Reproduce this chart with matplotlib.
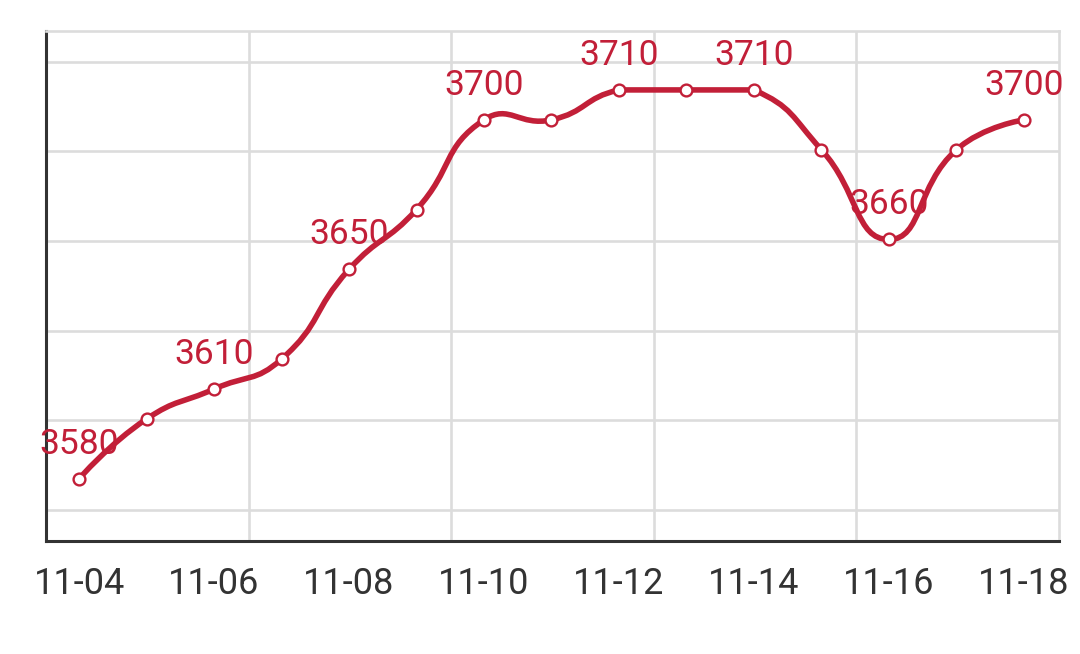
import numpy as np
import matplotlib.pyplot as plt
from matplotlib.path import Path
from matplotlib.patches import PathPatch

plt.rcParams['font.family'] = ['Roboto', 'DejaVu Sans']

# data
dates = ['11-04', '11-05', '11-06', '11-07', '11-08', '11-09', '11-10', '11-11',
         '11-12', '11-13', '11-14', '11-15', '11-16', '11-17', '11-18']
prices = [3580, 3600, 3610, 3620, 3650, 3670, 3700, 3700,
          3710, 3710, 3710, 3690, 3660, 3690, 3700]

red = '#C21F38'
dark = '#333333'
grid_c = '#DCDCDC'


def smooth_path(xs, ys, sx, sy, smooth=0.5):
    # bezier smoothing like echarts, computed in pixel-like units
    pts = np.column_stack([np.asarray(xs, float) * sx, np.asarray(ys, float) * sy])
    lo, hi = pts.min(axis=0), pts.max(axis=0)
    cps = [pts[0].copy()]
    for i in range(1, len(pts) - 1):
        p, prev, nxt = pts[i], pts[i - 1], pts[i + 1]
        v = (nxt - prev) * smooth
        d0 = np.hypot(*(p - prev))
        d1 = np.hypot(*(p - nxt))
        s = d0 + d1
        d0, d1 = d0 / s, d1 / s
        c0 = np.clip(p - v * d0, lo, hi)
        c1 = np.clip(p + v * d1, lo, hi)
        cps += [c0, c1]
    cps.append(pts[-1].copy())
    verts = [pts[0]]
    codes = [Path.MOVETO]
    for i in range(len(pts) - 1):
        verts += [cps[2 * i], cps[2 * i + 1], pts[i + 1]]
        codes += [Path.CURVE4] * 3
    verts = np.array(verts) / np.array([sx, sy])
    return Path(verts, codes)


fig = plt.figure(figsize=(10.8, 6.54), dpi=100)
ax = fig.add_axes([46 / 1080, 113 / 654, 1013 / 1080, 510 / 654])

x = np.arange(len(dates))
ax.set_xlim(-0.49, 14.52)
ax.set_ylim(3559.2, 3729.7)

# background grid
x0, x1 = ax.get_xlim()
for k in range(1, 5):
    ax.axvline(x0 + k * (x1 - x0) / 5, color=grid_c, lw=1.9, zorder=0)
for yv in np.arange(3569.5, 3729, 30):
    ax.axhline(yv, color=grid_c, lw=1.9, zorder=0)

path = smooth_path(x, prices, 67.5, 3.0)
ax.add_patch(PathPatch(path, facecolor='none', edgecolor=red, lw=4.0,
                       capstyle='round', joinstyle='round', zorder=2))
ax.plot(x, prices, linestyle='none', marker='o', ms=8.5, mfc='white',
        mec=red, mew=1.7, zorder=3)

for i in range(0, len(x), 2):
    ax.annotate(str(prices[i]), (x[i], prices[i]), xytext=(0, 18),
                textcoords='offset points', ha='center', va='baseline',
                color=red, fontsize=25.5, zorder=4)

ax.set_xticks(x[::2])
ax.set_xticklabels(dates[::2])
ax.set_yticks([])
ax.tick_params(axis='x', length=0, pad=18, labelsize=26, labelcolor=dark)

for side in ['left', 'bottom']:
    ax.spines[side].set_color(dark)
    ax.spines[side].set_linewidth(2.2)
for side in ['top', 'right']:
    ax.spines[side].set_color(grid_c)
    ax.spines[side].set_linewidth(1.9)

fig.savefig('out.png', dpi=100)
